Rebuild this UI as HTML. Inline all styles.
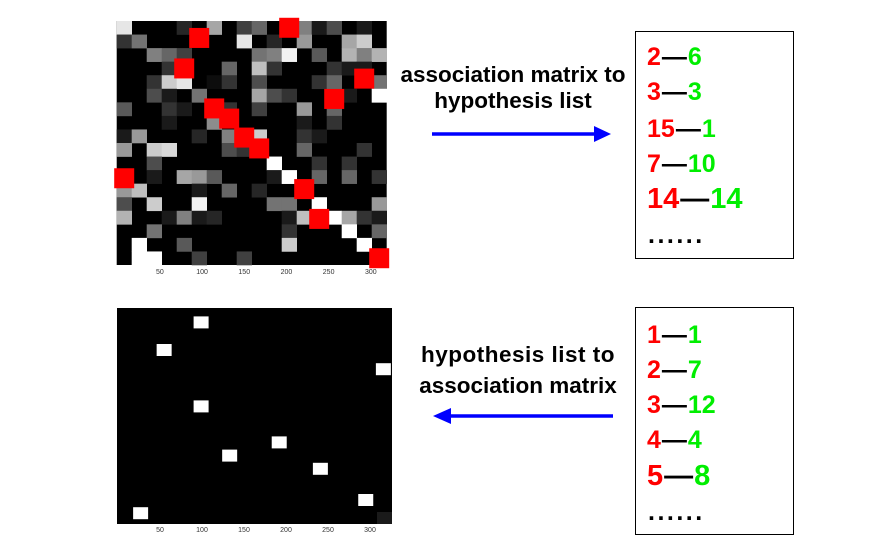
<!DOCTYPE html>
<html><head><meta charset="utf-8">
<style>
html,body{margin:0;padding:0;background:#fff;}
svg{display:block;font-family:"Liberation Sans",Arial,sans-serif;}
.lbl{font-weight:bold;font-size:22.5px;fill:#000;}
.num{font-weight:bold;font-size:25px;}
.dots{font-weight:bold;font-size:25px;letter-spacing:2.5px;}
</style></head>
<body>
<svg id="svg" width="887" height="553" viewBox="0 0 887 553">
  <g id="top-matrix"></g>
  <g id="bottom-matrix"></g>

  <text class="lbl" x="513" y="82" text-anchor="middle">association matrix to</text>
  <text class="lbl" x="513" y="108" text-anchor="middle">hypothesis list</text>
  <g>
    <line x1="432" y1="134" x2="598" y2="134" stroke="#0000ff" stroke-width="3.5"/>
    <polygon points="594,126 611,134 594,142" fill="#0000ff"/>
  </g>

  <text class="lbl" x="518" y="362" text-anchor="middle" style="letter-spacing:0.5px">hypothesis list to</text>
  <text class="lbl" x="518" y="393" text-anchor="middle">association matrix</text>
  <g>
    <line x1="447" y1="416" x2="613" y2="416" stroke="#0000ff" stroke-width="3.5"/>
    <polygon points="451,408 433,416 451,424" fill="#0000ff"/>
  </g>

  <g>
    <rect x="635.5" y="31.5" width="158" height="227" fill="#fff" stroke="#000" stroke-width="1"/>
    <text class="num" x="647" y="65"><tspan fill="#ff0000">2</tspan><tspan fill="#000" dx="1">—</tspan><tspan fill="#00ee00" dx="1">6</tspan></text>
    <text class="num" x="647" y="100"><tspan fill="#ff0000">3</tspan><tspan fill="#000" dx="1">—</tspan><tspan fill="#00ee00" dx="1">3</tspan></text>
    <text class="num" x="647" y="137"><tspan fill="#ff0000">15</tspan><tspan fill="#000" dx="1">—</tspan><tspan fill="#00ee00" dx="1">1</tspan></text>
    <text class="num" x="647" y="172"><tspan fill="#ff0000">7</tspan><tspan fill="#000" dx="1">—</tspan><tspan fill="#00ee00" dx="1">10</tspan></text>
    <text class="num" x="647" y="208" style="font-size:29px"><tspan fill="#ff0000">14</tspan><tspan fill="#000" dx="1">—</tspan><tspan fill="#00ee00" dx="1">14</tspan></text>
    <text class="dots" x="648" y="243" fill="#000">......</text>
  </g>

  <g>
    <rect x="635.5" y="307.5" width="158" height="227" fill="#fff" stroke="#000" stroke-width="1"/>
    <text class="num" x="647" y="343"><tspan fill="#ff0000">1</tspan><tspan fill="#000" dx="1">—</tspan><tspan fill="#00ee00" dx="1">1</tspan></text>
    <text class="num" x="647" y="378"><tspan fill="#ff0000">2</tspan><tspan fill="#000" dx="1">—</tspan><tspan fill="#00ee00" dx="1">7</tspan></text>
    <text class="num" x="647" y="413"><tspan fill="#ff0000">3</tspan><tspan fill="#000" dx="1">—</tspan><tspan fill="#00ee00" dx="1">12</tspan></text>
    <text class="num" x="647" y="448"><tspan fill="#ff0000">4</tspan><tspan fill="#000" dx="1">—</tspan><tspan fill="#00ee00" dx="1">4</tspan></text>
    <text class="num" x="647" y="485" style="font-size:29px"><tspan fill="#ff0000">5</tspan><tspan fill="#000" dx="1">—</tspan><tspan fill="#00ee00" dx="1">8</tspan></text>
    <text class="dots" x="648" y="520" fill="#000">......</text>
  </g>
</svg>
<script>
// ---- data ----
const topRows = [
 [0.9,0,0,0,0.15,0,0.65,0,0.25,0.4,0,0,0.5,0.1,0.3,0,0.1,0],
 [0.2,0.45,0,0,0,0,0,0,0.9,0,0.15,0,0.6,0,0,0.65,0.8,0],
 [0,0,0.5,0.4,0.25,0,0,0,0,0.45,0.5,0.95,0,0.35,0,0.7,0.5,0.7],
 [0,0,0,0.2,0,0,0,0.4,0,0.75,0.2,0,0,0,0.2,0.1,0.1,0],
 [0,0,0.2,0.8,0.9,0,0.05,0.2,0,0.3,0,0,0,0.2,0.4,0,0,0.45],
 [0,0,0.3,0.1,0,0.45,0,0,0,0.65,0.3,0.2,0,0,0,0.1,0,1],
 [0.35,0,0,0.2,0.1,0,0,0.2,0,0.25,0,0,0.6,0,0.4,0,0,0],
 [0,0,0,0.1,0,0,0.55,0,0,0,0,0,0.1,0,0.2,0,0,0],
 [0.1,0.6,0,0,0,0.15,0,0.5,0,0.8,0,0,0.2,0.1,0,0,0,0],
 [0.6,0,0.8,0.85,0,0,0,0.3,0.2,0,0,0,0.4,0,0,0,0.2,0],
 [0,0,0.3,0,0,0,0,0,0,0,1,0,0,0.2,0,0.2,0,0],
 [0,0,0.1,0,0.65,0.6,0.35,0,0,0,0.1,1,0,0.4,0,0.4,0,0.2],
 [0.6,0.75,0,0,0,0.1,0,0.4,0,0.15,0,0,0,0,0,0,0,0],
 [0.3,0,0.8,0,0,0.95,0,0,0,0,0.45,0.45,0,1,0,0,0,0.6],
 [0.7,0,0,0.1,0.5,0.1,0.15,0,0,0,0,0.1,0.75,0,1,0.65,0.2,0.1],
 [0,0,0.45,0,0,0,0,0,0,0,0,0.2,0,0,0,1,0,0.4],
 [0,1,0,0,0.35,0,0,0,0,0,0,0.8,0,0,0,0,1,0],
 [0,1,1,0,0,0.25,0,0,0.25,0,0,0,0,0,0,0,0,0]
];
const topRedCols = [11,5,4,16,14,6,7,8,9,0,12,13,17];
const topRedRows = [0.5,1.25,3.5,4.25,5.75,6.45,7.2,8.6,9.4,11.6,12.4,14.6,17.5];
const xTickLabels = ["50","100","150","200","250","300"];
const xTickValues = [50,100,150,200,250,300];
const bottomX = [90,46,307,90,183,124,232,286,18];
const bottomRow = [1.2,3.5,5.1,8.2,11.2,12.3,13.4,16,17.1];

const NS="http://www.w3.org/2000/svg";
function mk(tag,attrs,parent){const e=document.createElementNS(NS,tag);for(const k in attrs)e.setAttribute(k,attrs[k]);parent.appendChild(e);return e;}

// ---- top matrix ----
const tg=document.getElementById('top-matrix');
const T={x0:116.7,y0:21,w:270,h:244,n:18};
const tcw=T.w/T.n, tch=T.h/T.n;
const txScale=v=>T.x0+v*(T.w/320);
mk('rect',{x:T.x0,y:T.y0,width:T.w,height:T.h,fill:'#000'},tg);
topRows.forEach((row,r)=>row.forEach((v,c)=>{
  if(v<=0)return;const g=Math.round(v*255);
  const e=mk('rect',{x:T.x0+c*tcw,y:T.y0+r*tch,width:tcw+0.3,height:tch+0.3,fill:`rgb(${g},${g},${g})`},tg);
  
  
}));
topRedCols.forEach((c,i)=>{
  const cx=T.x0+(c+0.5)*tcw, cy=T.y0+topRedRows[i]*tch;
  const e=mk('rect',{x:cx-10,y:cy-10,width:20,height:20,fill:'#ff0000'},tg);
  
  
});
xTickValues.forEach((v,i)=>{
  const t=mk('text',{x:txScale(v)+1,y:274,'font-size':7,'text-anchor':'middle',fill:'#333'},tg);
  t.textContent=xTickLabels[i];
  
  
});

// ---- bottom matrix ----
const bg=document.getElementById('bottom-matrix');
const B={x0:117,y0:308,w:275,h:216,n:18};
const bxScale=v=>118+v*0.84;
const brh=B.h/B.n;
mk('rect',{x:B.x0,y:B.y0,width:B.w,height:B.h,fill:'#000'},bg);
mk('rect',{x:B.x0+B.w-15,y:B.y0+B.h-12,width:15,height:12,fill:'#1a1a1a'},bg);
bottomX.forEach((v,i)=>{
  const e=mk('rect',{x:bxScale(v),y:B.y0+(bottomRow[i]-0.5)*brh,width:15,height:12,fill:'#fff'},bg);
  
  
});
xTickValues.forEach((v,i)=>{
  const t=mk('text',{x:bxScale(v),y:532,'font-size':7,'text-anchor':'middle',fill:'#333'},bg);
  t.textContent=xTickLabels[i];
  
  
});
</script>
</body></html>
